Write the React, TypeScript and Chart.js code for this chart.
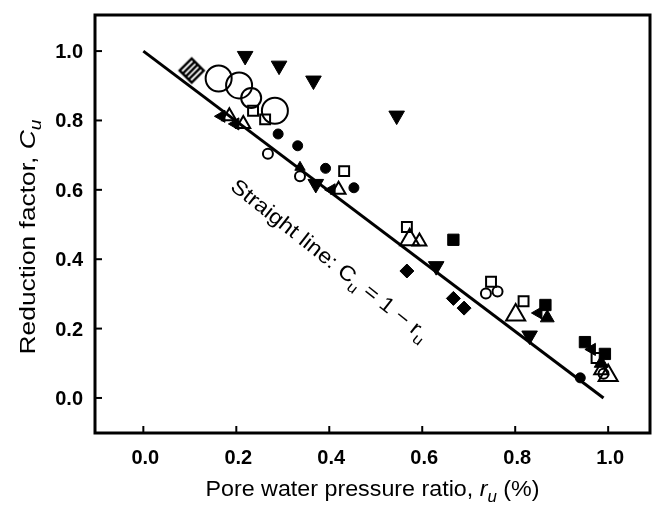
import React, { useEffect, useRef } from "react";
import { Chart, registerables } from "chart.js";
Chart.register(...registerables);

// ---- data (x = r_u, y = C_u) ----
const downTriangles: number[][] = [[0.219, 0.986], [0.292, 0.958], [0.366, 0.915], [0.545, 0.814], [0.371, 0.617], [0.630, 0.380], [0.831, 0.180]];
const bigCircles: number[][] = [[0.162, 0.921], [0.206, 0.901], [0.283, 0.828]];
const midCircles: number[][] = [[0.232, 0.865]];
const hatched: number[][] = [[0.104, 0.944]];
const openSquares: number[][] = [[0.236, 0.828], [0.262, 0.803], [0.432, 0.654], [0.567, 0.493], [0.748, 0.335], [0.818, 0.279], [0.975, 0.115]];
const openTriangles: number[][] = [[0.185, 0.812], [0.215, 0.790], [0.420, 0.600], [0.594, 0.451], [0.985, 0.080]];
const bigOpenTriangles: number[][] = [[0.573, 0.456], [0.801, 0.239], [1.0, 0.065]];
const leftTriangles: number[][] = [[0.168, 0.812], [0.198, 0.790], [0.405, 0.600], [0.850, 0.245], [0.965, 0.140]];
const filledCircles: number[][] = [[0.290, 0.761], [0.332, 0.727], [0.392, 0.662], [0.453, 0.606], [0.940, 0.058]];
const openCircles: number[][] = [[0.268, 0.704], [0.337, 0.639], [0.737, 0.301], [0.762, 0.307], [0.990, 0.070]];
const filledSquares: number[][] = [[0.667, 0.456], [0.865, 0.268], [0.950, 0.161], [0.993, 0.127]];
const filledDiamonds: number[][] = [[0.567, 0.366], [0.667, 0.287], [0.690, 0.259]];
const upTriangles: number[][] = [[0.869, 0.231], [0.985, 0.100]];
const smallUpTriangles: number[][] = [[0.337, 0.665]];
const fitLineX: number[] = [0, 0.99];
const fitLineY: number[] = [1, 0];
const xTicks: number[] = [0, 0.2, 0.4, 0.6, 0.8, 1.0];
const yTicks: number[] = [0, 0.2, 0.4, 0.6, 0.8, 1.0];

const FONT = '"Liberation Sans", Arial, sans-serif';
const toPts = (a: number[][]) => a.map(([x, y]) => ({ x, y }));

type Part = { t: string; it?: boolean; sub?: boolean; b?: boolean };

function drawRich(ctx: CanvasRenderingContext2D, parts: Part[], size: number, align: "left" | "center" | "right", targetLen?: number) {
  const fontFor = (p: Part) => `${p.it ? "italic " : ""}${p.b ? "bold " : ""}${p.sub ? Math.round(size * 0.72) : size}px ${FONT}`;
  let total = 0;
  for (const p of parts) { ctx.font = fontFor(p); total += ctx.measureText(p.t).width; }
  const sx = targetLen ? targetLen / total : 1;
  ctx.save();
  ctx.scale(sx, 1);
  let cx = align === "center" ? -total / 2 : align === "right" ? -total : 0;
  ctx.textAlign = "left";
  ctx.textBaseline = "alphabetic";
  for (const p of parts) {
    ctx.font = fontFor(p);
    ctx.fillText(p.t, cx, p.sub ? size * 0.28 : 0);
    cx += ctx.measureText(p.t).width;
  }
  ctx.restore();
}

function makeHatched(): HTMLCanvasElement {
  const c = document.createElement("canvas");
  c.width = 30; c.height = 30;
  const g = c.getContext("2d")!;
  g.translate(15, 15);
  g.rotate(Math.PI / 4);
  g.strokeStyle = "#000";
  g.lineWidth = 2.5;
  const h = 8.5;
  g.strokeRect(-h, -h, 2 * h, 2 * h);
  for (const o of [-4.2, 0, 4.2]) {
    g.beginPath(); g.moveTo(o, -h); g.lineTo(o, h); g.stroke();
  }
  return c;
}

const decor = {
  id: "decor",
  afterDraw(chart: any) {
    const { ctx, chartArea: a, scales } = chart;
    const xs = scales.x, ys = scales.y;
    ctx.save();
    ctx.fillStyle = "#000";
    ctx.strokeStyle = "#000";
    ctx.lineWidth = 3;
    ctx.strokeRect(a.left, a.top, a.right - a.left, a.bottom - a.top);
    ctx.lineWidth = 2;
    for (const v of xTicks) {
      const px = xs.getPixelForValue(v);
      ctx.beginPath(); ctx.moveTo(px, a.bottom); ctx.lineTo(px, a.bottom - 7); ctx.stroke();
    }
    for (const v of yTicks) {
      const py = ys.getPixelForValue(v);
      ctx.beginPath(); ctx.moveTo(a.left, py); ctx.lineTo(a.left + 7, py); ctx.stroke();
    }
    // tick labels
    for (const v of xTicks) {
      const px = xs.getPixelForValue(v);
      ctx.save(); ctx.translate(px + 2, a.bottom + 31);
      drawRich(ctx, [{ t: v.toFixed(1), b: true }], 20, "center");
      ctx.restore();
    }
    for (const v of yTicks) {
      const py = ys.getPixelForValue(v);
      ctx.save(); ctx.translate(83, py + 7);
      drawRich(ctx, [{ t: v.toFixed(1), b: true }], 20, "right");
      ctx.restore();
    }
    // x title
    ctx.save(); ctx.translate((a.left + a.right) / 2, 496);
    drawRich(ctx, [{ t: "Pore water pressure ratio, " }, { t: "r", it: true }, { t: "u", it: true, sub: true }, { t: " (%)" }], 22, "center", 334);
    ctx.restore();
    // y title
    ctx.save(); ctx.translate(35, 237); ctx.rotate(-Math.PI / 2);
    drawRich(ctx, [{ t: "Reduction factor, " }, { t: "C", it: true }, { t: "u", it: true, sub: true }], 22, "center", 235);
    ctx.restore();
    // annotation
    ctx.save();
    ctx.translate(xs.getPixelForValue(0.185), ys.getPixelForValue(0.603));
    ctx.rotate((38.4 * Math.PI) / 180);
    drawRich(ctx, [{ t: "Straight line: C" }, { t: "u", sub: true }, { t: " = 1 \u2212 r" }, { t: "u", sub: true }], 21, "left", 246);
    ctx.restore();
    ctx.restore();
  },
};

export default function App() {
  const ref = useRef<HTMLCanvasElement>(null);
  useEffect(() => {
    if (!ref.current) return;
    const hatchImg = makeHatched();
    const open = "rgba(0,0,0,0)";
    const ds = (data: number[][], style: any, radius: number, filled: boolean, rotation = 0, bw = 2) => ({
      type: "scatter" as const,
      data: toPts(data),
      pointStyle: style,
      pointRadius: radius,
      pointRotation: rotation,
      pointBackgroundColor: filled ? "#000" : open,
      pointBorderColor: "#000",
      pointBorderWidth: filled ? 1 : bw,
      showLine: false,
    });
    const chart = new Chart(ref.current, {
      type: "scatter",
      data: {
        datasets: [
          {
            type: "line" as const,
            data: fitLineX.map((x, i) => ({ x, y: fitLineY[i] })),
            borderColor: "#000",
            borderWidth: 3,
            pointRadius: 0,
            showLine: true,
          } as any,
          ds(downTriangles, "triangle", 9, true, 180),
          ds(bigCircles, "circle", 13, false),
          ds(midCircles, "circle", 10, false),
          ds(hatched, hatchImg, 12, false),
          ds(openSquares, "rect", 7, false),
          ds(openTriangles, "triangle", 8, false),
          ds(bigOpenTriangles, "triangle", 11, false),
          ds(leftTriangles, "triangle", 7, true, 270),
          ds(filledCircles, "circle", 5, true),
          ds(openCircles, "circle", 5, false),
          ds(filledSquares, "rect", 8, true),
          ds(filledDiamonds, "rectRot", 7, true),
          ds(upTriangles, "triangle", 8, true),
          ds(smallUpTriangles, "triangle", 6, true),
        ],
      },
      options: {
        animation: false,
        responsive: false,
        events: [],
        layout: { padding: { top: 5, right: 9, left: 0, bottom: 0 } },
        plugins: { legend: { display: false }, tooltip: { enabled: false } },
        scales: {
          x: {
            type: "linear", min: -0.104, max: 1.09,
            grid: { display: false }, border: { display: false }, ticks: { display: false },
            afterFit: (s: any) => { s.height = 73; },
          },
          y: {
            type: "linear", min: -0.101, max: 1.104,
            grid: { display: false }, border: { display: false }, ticks: { display: false },
            afterFit: (s: any) => { s.width = 95; },
          },
        },
      },
      plugins: [decor],
    });
    return () => chart.destroy();
  }, []);
  return (
    <div style={{ position: "fixed", left: 0, top: 0, width: 665, height: 506, background: "#fff" }}>
      <canvas ref={ref} width={665} height={506} style={{ display: "block" }} />
    </div>
  );
}
